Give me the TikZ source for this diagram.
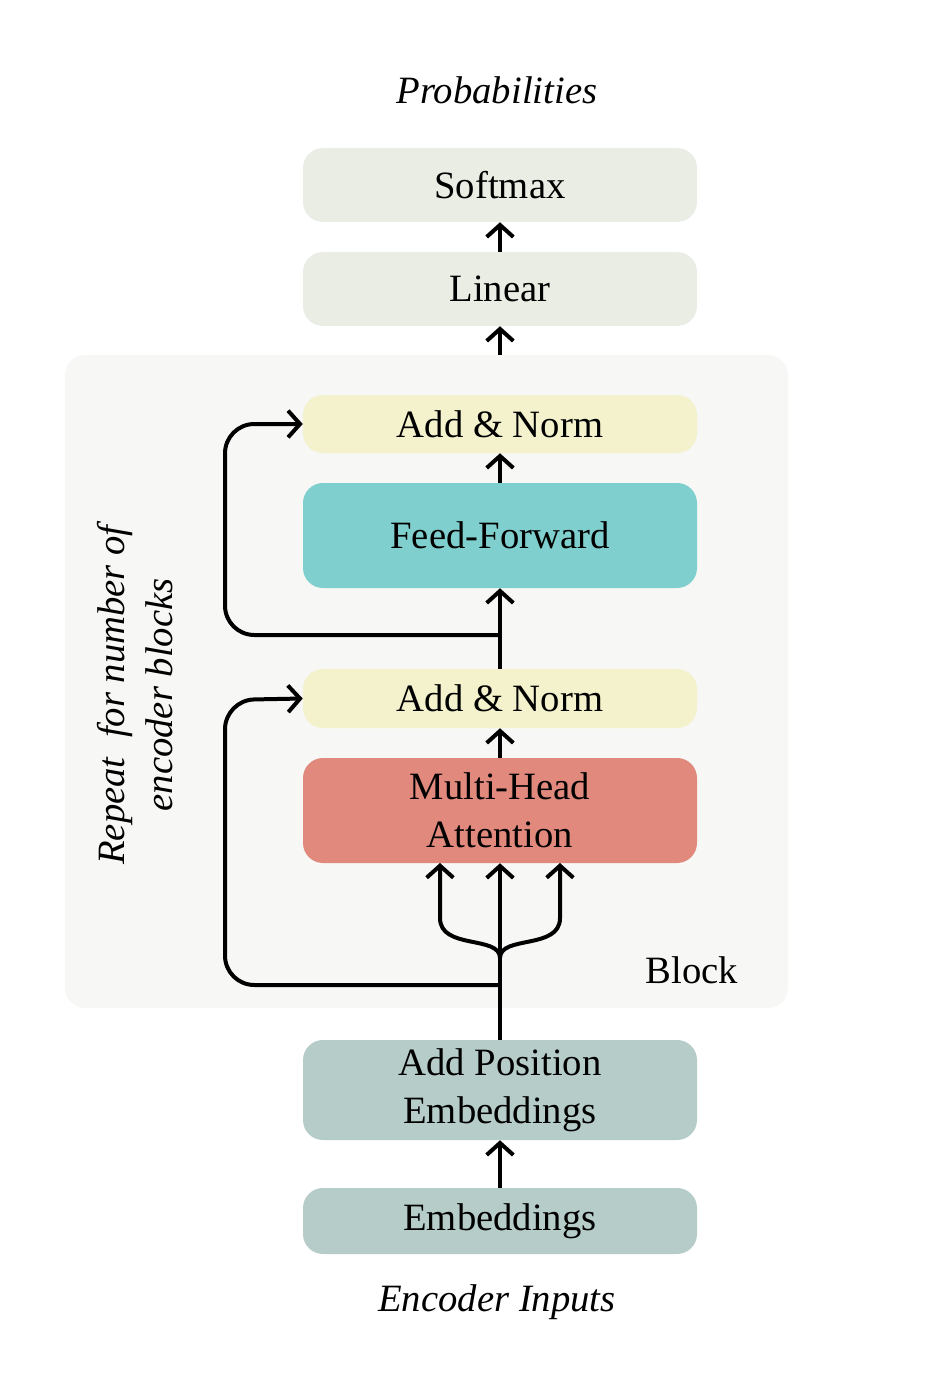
\documentclass[tikz,border=0pt]{standalone}
\usepackage{fontspec}
\setmainfont{Liberation Serif}
\usetikzlibrary{arrows.meta}
\definecolor{smaxcol}{HTML}{EAEDE4}
\definecolor{blockcol}{HTML}{F7F7F5}
\definecolor{normcol}{HTML}{F3F2CC}
\definecolor{ffcol}{HTML}{7ECFCD}
\definecolor{attcol}{HTML}{E0897C}
\definecolor{embcol}{HTML}{B5CCC8}
\tikzset{
  box/.style={draw=none, rounded corners=15pt, minimum width=394*0.75pt, align=center,
    font=\fontsize{29}{36}\selectfont, inner sep=0pt},
  arr/.style={line width=3pt, -{Straight Barb[length=9pt,width=20pt,line width=3pt]}},
  ln/.style={line width=3pt},
  lbl/.style={font=\fontsize{29}{36}\selectfont\itshape}
}
\begin{document}
\begin{tikzpicture}[x=0.75pt,y=-0.75pt]
\useasboundingbox (0,0) rectangle (938,1394);
% block background
\fill[blockcol, rounded corners=15pt] (65,355) rectangle (788,1008);
\node[anchor=center, font=\fontsize{29}{36}\selectfont] (blk) at (692,970) {Block};
\node[lbl, rotate=90, align=center] (rep) at (135,695) {Repeat\ \ for number of\\encoder blocks};
% boxes
\node[box, fill=smaxcol, minimum height=74*0.75pt] (smax) at (500,185) {Softmax};
\node[box, fill=smaxcol, minimum height=74*0.75pt] (lin) at (500,289) {Linear};
\node[box, fill=normcol, minimum height=58*0.75pt] (an1) at (500,424) {Add \& Norm};
\node[box, fill=ffcol, minimum height=105*0.75pt] (ff) at (500,535.5) {Feed-Forward};
\node[box, fill=normcol, minimum height=59*0.75pt] (an2) at (500,698.5) {Add \& Norm};
\node[box, fill=attcol, minimum height=105*0.75pt] (mha) at (500,810.5) {Multi-Head\\Attention};
\node[box, fill=embcol, minimum height=100*0.75pt] (ape) at (500,1090) {Add Position\\Embeddings};
\node[box, fill=embcol, minimum height=66*0.75pt] (emb) at (500,1221) {Embeddings};
\node[lbl] (prob) at (497,90) {Probabilities};
\node[lbl] (inp) at (497,1302) {Encoder Inputs};
% connectors
\coordinate (btop) at (500,355);
\coordinate (r1) at (500,635);
\coordinate (r2) at (500,985);
\coordinate (fork) at (500,958);
\draw[arr] (lin) -- (smax);
\draw[arr] (btop) -- (lin);
\draw[arr] (ff) -- (an1);
\draw[arr] (an2.north) -- (ff);
\draw[arr, rounded corners=22pt] (r1) -| (225,424) -- (an1.west);
\draw[arr] (mha) -- (an2);
\draw[ln] (ape) -- (fork);
\draw[arr, rounded corners=22pt] (r2) -| (225,700) -- (an2.west);
\draw[arr] (fork) -- (mha.south);
\draw[arr] (fork) .. controls (500,935) and (440,950) .. (440,918) -- (440,863);
\draw[arr] (fork) .. controls (500,935) and (560,950) .. (560,918) -- (560,863);
\draw[arr] (emb) -- (ape);
\end{tikzpicture}
\end{document}
